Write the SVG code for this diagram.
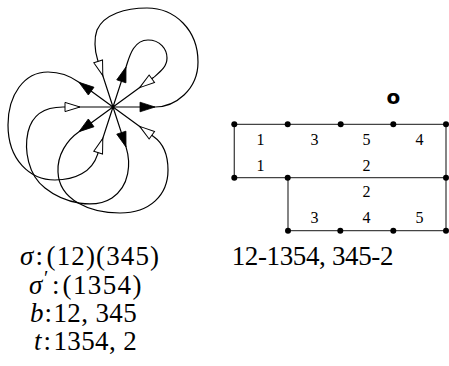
<svg xmlns="http://www.w3.org/2000/svg" width="449" height="366" viewBox="0 0 449 366">
<style>
.loop{fill:none;stroke:#000;stroke-width:1.2;stroke-linejoin:round}
.ab{fill:#000;stroke:#000;stroke-width:0.8}
.aw{fill:#fff;stroke:#000;stroke-width:1}
.grid{fill:none;stroke:#444;stroke-width:1.3}
.dot{fill:#000}
.lab{font-family:"Liberation Serif",serif;font-size:16px;fill:#000;text-anchor:middle}
.m{font-family:"Liberation Serif",serif;font-size:27px;fill:#000}
.i{font-style:italic}
.o{font-family:"DejaVu Sans",sans-serif;font-weight:bold;font-size:20px;text-anchor:middle;fill:#000}
</style>
<defs>
<polygon id="ab" class="ab" points="27,-4.8 42,0 27,4.8"/>
<polygon id="aw" class="aw" points="48,-4.6 33,0 48,4.6"/>
</defs>
<g id="connectors">
<path id="loop1" class="loop" d="M113,107 L155,107 C175,107 198,90 198,62 C198,30 175,8 147,8 C126,8 104,14 97,30 C94,38 94.5,50 97.5,59.4 L113,107"/>
<path id="loop2" class="loop" d="M113,107 L126,67.1 C129,58 133,40 148,40 C160,40 167,49 167,58 C167,67 160,72 153.45,77.6 L113,107"/>
<path id="loop3" class="loop" d="M113,107 L79,82.3 C70,75.8 60,72 48,72 C24,72 8,95 8,125 C8,160 30,180 55,180 C75,180 92,172 97.5,154.6 L113,107"/>
<path id="loop4" class="loop" d="M113,107 L79,131.7 C67,140 57,155 58,172 C59,200 90,213 120,213 C150,213 168,195 168,170 C168,155 163,143 153.45,136.4 L113,107"/>
<path id="loop5" class="loop" d="M113,107 L126,146.9 C131,163 130,186 112,198 C95,209 65,204 45,188 C28,175 24,150 28,132 C32,115 45,107 63,107 L113,107"/>
<use href="#ab" transform="translate(113 107) rotate(0)"/>
<use href="#aw" transform="translate(113 107) rotate(-36)"/>
<use href="#ab" transform="translate(113 107) rotate(-72)"/>
<use href="#aw" transform="translate(113 107) rotate(-108)"/>
<use href="#ab" transform="translate(113 107) rotate(-144)"/>
<use href="#aw" transform="translate(113 107) rotate(-180)"/>
<use href="#ab" transform="translate(113 107) rotate(-216)"/>
<use href="#aw" transform="translate(113 107) rotate(-252)"/>
<use href="#ab" transform="translate(113 107) rotate(-288)"/>
<use href="#aw" transform="translate(113 107) rotate(-324)"/>
<path id="grid" class="grid" d="M234.3,124.3 H446 M234.3,124.3 V177.7 M234.3,177.7 H446 M446,124.3 V230.7 M288,177.7 V230.7 M288,230.7 H446"/>
</g>
<g id="vertex"><circle cx="113" cy="107" r="1.5" class="dot"/></g>
<g id="grid-vertices">
<circle id="v1" class="dot" cx="234.3" cy="124.3" r="3"/>
<circle id="v2" class="dot" cx="287.7" cy="124.3" r="3"/>
<circle id="v3" class="dot" cx="340.7" cy="124.3" r="3"/>
<circle id="v4" class="dot" cx="393.3" cy="124.3" r="3"/>
<circle id="v5" class="dot" cx="446" cy="124.3" r="3"/>
<circle id="v6" class="dot" cx="234.3" cy="177.7" r="3"/>
<circle id="v7" class="dot" cx="287.7" cy="177.7" r="3"/>
<circle id="v8" class="dot" cx="446" cy="177.7" r="3"/>
<circle id="v9" class="dot" cx="288" cy="230.7" r="3"/>
<circle id="v10" class="dot" cx="340.3" cy="230.7" r="3"/>
<circle id="v11" class="dot" cx="393.3" cy="230.7" r="3"/>
<circle id="v12" class="dot" cx="446" cy="230.7" r="3"/>
</g>
<g id="grid-labels">
<text class="lab" x="260.5" y="145">1</text>
<text class="lab" x="314.5" y="145">3</text>
<text class="lab" x="366.5" y="145">5</text>
<text class="lab" x="419.5" y="145">4</text>
<text class="lab" x="260.5" y="171">1</text>
<text class="lab" x="366.5" y="171">2</text>
<text class="lab" x="366.5" y="197">2</text>
<text class="lab" x="314.5" y="223">3</text>
<text class="lab" x="366.5" y="223">4</text>
<text class="lab" x="419.5" y="223">5</text>
<text class="o" x="393.3" y="103.5">o</text>
</g>
<g id="captions">
<text class="m i" x="20" y="265">σ</text>
<text class="m" x="35.5" y="265">:</text>
<text class="m" x="46.5" y="265" textLength="112.5" lengthAdjust="spacing">(12)(345)</text>
<text class="m i" x="29" y="294">σ</text>
<text class="m" x="44" y="285" style="font-size:20px">′</text>
<text class="m" x="52" y="294">:</text>
<text class="m" x="62.5" y="294" textLength="79" lengthAdjust="spacing">(1354)</text>
<text class="m i" x="30" y="322">b</text>
<text class="m" x="44.5" y="322">:</text>
<text class="m" x="53.5" y="322" textLength="83.2" lengthAdjust="spacing">12, 345</text>
<text class="m i" x="34" y="350">t</text>
<text class="m" x="43.5" y="350">:</text>
<text class="m" x="53.5" y="350" textLength="83.2" lengthAdjust="spacing">1354, 2</text>
<text class="m" x="231.7" y="265" textLength="161.7" lengthAdjust="spacing">12-1354, 345-2</text>
</g>
</svg>
